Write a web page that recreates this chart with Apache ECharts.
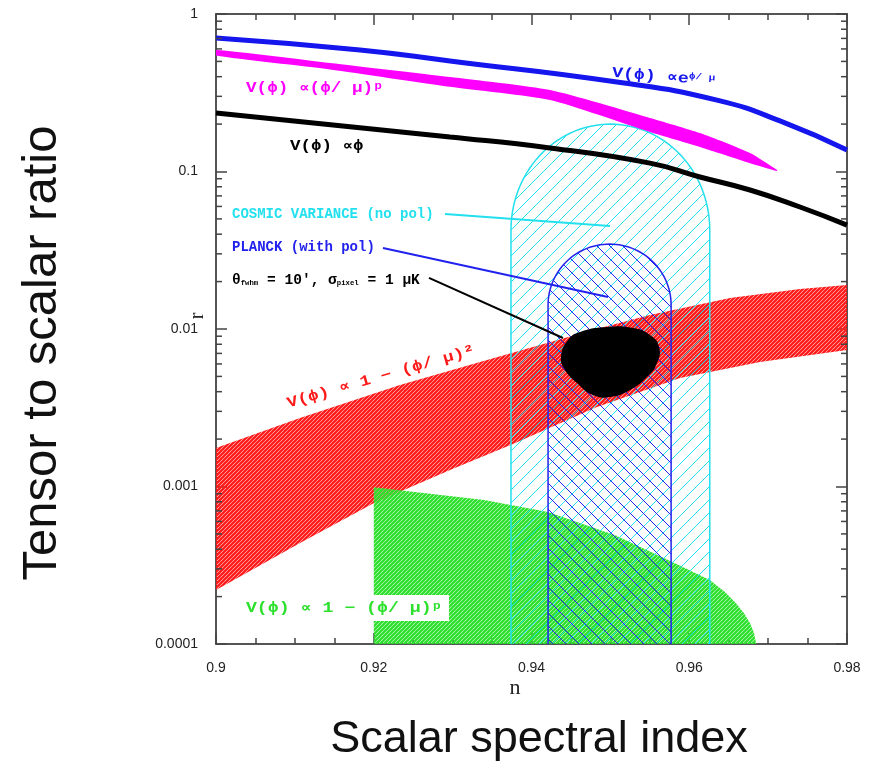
<!DOCTYPE html>
<html><head><meta charset="utf-8">
<script src="https://cdn.jsdelivr.net/npm/echarts@6/dist/echarts.min.js"></script>
<style>html,body{margin:0;padding:0;background:#fff}#c{width:869px;height:762px}</style>
</head><body><div id="c"></div>
<script>
// ---------- data ----------
const xTickLabels = ['0.9', '0.92', '0.94', '0.96', '0.98'];
const yTickLabels = ['0.0001', '0.001', '0.01', '0.1', '1'];

// V ∝ e^{phi/mu}
const expN = [0.9, 0.91826, 0.92967, 0.95084, 0.96352, 0.97189, 0.98];
const expR = [0.704, 0.591, 0.503, 0.370, 0.284, 0.206, 0.137];
// V ∝ phi
const phiN = [0.9, 0.92967, 0.94235, 0.95502, 0.96136, 0.9677, 0.97404, 0.98];
const phiR = [0.235, 0.1656, 0.141, 0.113, 0.0923, 0.0763, 0.0595, 0.0457];
// V ∝ (phi/mu)^p band
const powN = [0.9, 0.91445, 0.92967, 0.94235, 0.95502, 0.96136, 0.9677, 0.97113];
const powRUpper = [0.591, 0.489, 0.398, 0.329, 0.219, 0.1755, 0.131, 0.1023];
const powRLower = [0.545, 0.445, 0.345, 0.284, 0.178, 0.143, 0.113, 0.1008];
// V ∝ 1-(phi/mu)^2 band
const quadUpperN = [0.9, 0.91065, 0.92333, 0.93347, 0.94197, 0.94869, 0.95502, 0.96517, 0.97404, 0.98];
const quadUpperR = [0.001755, 0.00272, 0.00441, 0.00617, 0.00815, 0.01015, 0.01227, 0.01574, 0.01795, 0.01902];
const quadLowerN = [0.9, 0.91065, 0.92003, 0.92967, 0.93765, 0.9483, 0.95883, 0.96897, 0.98];
const quadLowerR = [0.000220, 0.000438, 0.000785, 0.001274, 0.001862, 0.0032, 0.00489, 0.00617, 0.00736];
// V ∝ 1-(phi/mu)^p region (upper boundary)
const hillN = [0.92, 0.934, 0.9421, 0.9506, 0.9574, 0.9626, 0.96453, 0.9659, 0.96694, 0.9677, 0.96821, 0.9685];
const hillR = [0.00099, 0.00082, 0.00069, 0.00049, 0.00034, 0.000255, 0.000214, 0.000182, 0.000157, 0.000136, 0.0001175, 0.0001];
// forecast regions: [n_low, n_high], r where sides end, r at top of cap
const cosmicN = [0.9374, 0.9626];
const cosmicShoulderR = 0.0425;
const cosmicTopR = 0.2;
const planckN = [0.9421, 0.9577];
const planckShoulderR = 0.0142;
const planckTopR = 0.0346;
// future experiment ellipse (outline points)
const blobN = [0.94374, 0.94463, 0.94615, 0.94957, 0.95287, 0.95502, 0.95617, 0.95591, 0.95464, 0.95249, 0.94995, 0.9478, 0.94577, 0.94425];
const blobR = [0.00664, 0.00851, 0.00957, 0.0103, 0.01015, 0.00916, 0.00769, 0.00608, 0.00495, 0.0041, 0.0037, 0.00381, 0.00454, 0.0055];
// leader lines [[n1,r1],[n2,r2]]
const leaderCosmic = [[0.92903, 0.0537], [0.94995, 0.0451]];
const leaderPlanck = [[0.92117, 0.0327], [0.9497, 0.01596]];
const leaderFuture = [[0.9270, 0.0211], [0.94399, 0.00877]];

// ---------- helpers ----------
function hatch(color, size, lw, dir, bg) {
  const c = document.createElement('canvas');
  c.width = size; c.height = size;
  const g = c.getContext('2d');
  if (bg) { g.fillStyle = bg; g.fillRect(0, 0, size, size); }
  g.strokeStyle = color; g.lineWidth = lw; g.beginPath();
  for (let k = -1; k <= 1; k++) {
    if (dir > 0) { g.moveTo(-2 + k * size, size + 2); g.lineTo(size + 2 + k * size, -2); }
    else { g.moveTo(-2 + k * size, -2); g.lineTo(size + 2 + k * size, size + 2); }
  }
  g.stroke();
  return c;
}
const redPat = { image: hatch('#ff1a1a', 4, 2.3, 1), repeat: 'repeat' };
const greenPat = { image: hatch('#2ee02e', 4, 2.3, 1), repeat: 'repeat' };
const cyanPat = { image: hatch('#22e0ee', 13, 1, 1), repeat: 'repeat' };
const bluePat = { image: hatch('#2222ee', 13, 1, -1), repeat: 'repeat' };

function domePts(api, nr, rS, rT) {
  const bl = api.coord([nr[0], 1e-4]), sl = api.coord([nr[0], rS]);
  const sr = api.coord([nr[1], rS]), br = api.coord([nr[1], 1e-4]);
  const top = api.coord([(nr[0] + nr[1]) / 2, rT]);
  const cx = (sl[0] + sr[0]) / 2, a = (sr[0] - sl[0]) / 2, cy = sl[1], b = cy - top[1];
  const pts = [bl, sl];
  for (let i = 1; i < 60; i++) { const t = Math.PI * i / 60; pts.push([cx - a * Math.cos(t), cy - b * Math.sin(t)]); }
  pts.push(sr, br);
  return pts;
}

const yMinor = [];
for (let k = -4; k <= -1; k++) for (let m = 2; m <= 9; m++) yMinor.push([0.94, m * Math.pow(10, k)]);

const mono = 'bold 14px "Liberation Mono", "DejaVu Sans Mono", monospace';

const chart = echarts.init(document.getElementById('c'));
const axisLine = { show: true, lineStyle: { color: '#555', width: 2 } };
const xBase = {
  type: 'value', min: 0.9, max: 0.98, interval: 0.02,
  axisLine: axisLine, splitLine: { show: false },
  axisTick: { show: true, inside: true, length: 11, lineStyle: { color: '#444', width: 1.5 } },
  minorTick: { show: true, splitNumber: 4, length: 6, lineStyle: { color: '#444', width: 1.5 } },
  minorSplitLine: { show: false }
};
const yBase = {
  type: 'log', logBase: 10, min: 0.0001, max: 1,
  axisLine: axisLine, splitLine: { show: false },
  axisTick: { show: true, inside: true, length: 11, lineStyle: { color: '#444', width: 1.5 } },
  minorTick: { show: false }
};

chart.setOption({
  animation: false,
  backgroundColor: '#fff',
  grid: { left: 216, top: 14, width: 631, height: 630, show: false },
  xAxis: [
    Object.assign({}, xBase, { position: 'bottom',
      axisLabel: { margin: 17, fontSize: 14, color: '#222', fontFamily: '"Liberation Sans", Arial, sans-serif',
        formatter: v => xTickLabels[Math.round((v - 0.9) / 0.02)] } }),
    Object.assign({}, xBase, { position: 'top', axisLabel: { show: false } })
  ],
  yAxis: [
    Object.assign({}, yBase, { position: 'left',
      axisLabel: { margin: 18, fontSize: 14, color: '#222', fontFamily: '"Liberation Sans", Arial, sans-serif',
        formatter: v => yTickLabels[Math.round(Math.log10(v)) + 4] } }),
    Object.assign({}, yBase, { position: 'right', axisLabel: { show: false } })
  ],
  series: [
    { type: 'custom', name: 'quadratic', clip: true, z: 1, data: [[0.94, 0.01]],
      renderItem: (p, api) => {
        const pts = quadUpperN.map((n, i) => api.coord([n, quadUpperR[i]]));
        for (let i = quadLowerN.length - 1; i >= 0; i--) pts.push(api.coord([quadLowerN[i], quadLowerR[i]]));
        return { type: 'polygon', shape: { points: pts }, style: { fill: redPat, stroke: null } };
      } },
    { type: 'custom', name: 'hilltop', clip: true, z: 2, data: [[0.94, 0.001]],
      renderItem: (p, api) => {
        const pts = [api.coord([hillN[0], 1e-4])];
        hillN.forEach((n, i) => pts.push(api.coord([n, hillR[i]])));
        return { type: 'polygon', shape: { points: pts }, style: { fill: greenPat, stroke: null } };
      } },
    { type: 'custom', name: 'cosmic', clip: true, z: 3, data: [[0.95, 0.01]],
      renderItem: (p, api) => {
        const pts = domePts(api, cosmicN, cosmicShoulderR, cosmicTopR);
        return { type: 'group', children: [
          { type: 'polygon', shape: { points: pts }, style: { fill: cyanPat, stroke: null } },
          { type: 'polyline', shape: { points: pts }, style: { stroke: '#22e0ee', lineWidth: 1.5, fill: null } }
        ] };
      } },
    { type: 'custom', name: 'planck', clip: true, z: 4, data: [[0.95, 0.01]],
      renderItem: (p, api) => {
        const pts = domePts(api, planckN, planckShoulderR, planckTopR);
        return { type: 'group', children: [
          { type: 'polygon', shape: { points: pts }, style: { fill: bluePat, stroke: null } },
          { type: 'polyline', shape: { points: pts }, style: { stroke: '#2222ee', lineWidth: 1.5, fill: null } }
        ] };
      } },
    { type: 'custom', name: 'power', clip: true, z: 5, data: [[0.94, 0.3]],
      renderItem: (p, api) => {
        const pts = powN.map((n, i) => api.coord([n, powRUpper[i]]));
        for (let i = powN.length - 1; i >= 0; i--) pts.push(api.coord([powN[i], powRLower[i]]));
        return { type: 'polygon', shape: { points: pts, smooth: 0.2 }, style: { fill: '#ff00ff', stroke: null } };
      } },
    { type: 'line', name: 'exp', z: 6, smooth: true, showSymbol: false, symbol: 'none',
      data: expN.map((n, i) => [n, expR[i]]), lineStyle: { color: '#1515ee', width: 5 } },
    { type: 'line', name: 'phi', z: 6, smooth: true, showSymbol: false, symbol: 'none',
      data: phiN.map((n, i) => [n, phiR[i]]), lineStyle: { color: '#000', width: 5 } },
    { type: 'custom', name: 'future', clip: true, z: 7, data: [[0.95, 0.006]],
      renderItem: (p, api) => {
        const pts = blobN.map((n, i) => api.coord([n, blobR[i]]));
        return { type: 'polygon', shape: { points: pts, smooth: 0.5 }, style: { fill: '#000', stroke: null } };
      } },
    { type: 'custom', name: 'leaders', clip: true, z: 8, data: [[0.93, 0.03]],
      renderItem: (p, api) => {
        const seg = (l, c) => ({ type: 'line', shape: (() => { const a = api.coord(l[0]), b = api.coord(l[1]); return { x1: a[0], y1: a[1], x2: b[0], y2: b[1] }; })(), style: { stroke: c, lineWidth: 2 } });
        return { type: 'group', children: [seg(leaderCosmic, '#22e0ee'), seg(leaderPlanck, '#2222ee'), seg(leaderFuture, '#000')] };
      } },
    { type: 'custom', name: 'yminor', z: 9, data: yMinor,
      renderItem: (p, api) => {
        const v = api.value(1);
        const a = api.coord([0.9, v]), b = api.coord([0.98, v]);
        return { type: 'group', children: [
          { type: 'line', shape: { x1: a[0], y1: a[1], x2: a[0] + 6, y2: a[1] }, style: { stroke: '#444', lineWidth: 1.5 } },
          { type: 'line', shape: { x1: b[0], y1: b[1], x2: b[0] - 6, y2: b[1] }, style: { stroke: '#444', lineWidth: 1.5 } }
        ] };
      } }
  ],
  graphic: [
    { type: 'text', x: 246, y: 88, z: 20, scaleX: 1.26, style: { text: 'V(ϕ) ∝(ϕ/ μ)ᵖ', font: mono, fill: '#ff00ff', verticalAlign: 'middle' } },
    { type: 'text', x: 290, y: 146, z: 20, scaleX: 1.25, style: { text: 'V(ϕ) ∝ϕ', font: mono, fill: '#000', verticalAlign: 'middle' } },
    { type: 'text', x: 612, y: 73, z: 20, rotation: -0.08, scaleX: 1.22, style: { text: '{a|V(ϕ) ∝e}{s|ϕ/ μ}', verticalAlign: 'middle',
      rich: { a: { font: 'bold 15px "Liberation Mono", monospace', fill: '#1515ee' }, s: { font: 'bold 9px "Liberation Mono", monospace', fill: '#1515ee', verticalAlign: 'top' } } } },
    { type: 'text', x: 232, y: 214, z: 20, style: { text: 'COSMIC VARIANCE (no pol)', font: mono, fill: '#22e0ee', verticalAlign: 'middle' } },
    { type: 'text', x: 232, y: 247, z: 20, style: { text: 'PLANCK (with pol)', font: mono, fill: '#2222ee', verticalAlign: 'middle' } },
    { type: 'text', x: 232, y: 280, z: 20, scaleX: 1.04, style: { text: '{a|θ}{s|fwhm}{a| = 10\', σ}{s|pixel}{a| = 1 μK}', verticalAlign: 'middle',
      rich: { a: { font: 'bold 14px "Liberation Mono", monospace', fill: '#000' }, s: { font: 'bold 7px "Liberation Mono", monospace', fill: '#000', verticalAlign: 'bottom' } } } },
    { type: 'text', x: 381, y: 377, z: 20, rotation: 0.28, scaleX: 1.2, style: { text: 'V(ϕ) ∝ 1 − (ϕ/ μ)²', font: 'bold 15px "Liberation Mono", monospace', fill: '#ff1a1a', align: 'center', verticalAlign: 'middle' } },
    { type: 'text', x: 242, y: 608, z: 20, scaleX: 1.3, style: { text: 'V(ϕ) ∝ 1 − (ϕ/ μ)ᵖ', font: mono, fill: '#2ee02e', verticalAlign: 'middle',
      backgroundColor: '#fff', padding: [6, 5, 6, 3] } },
    { type: 'text', x: 198, y: 316, z: 20, rotation: Math.PI / 2, style: { text: 'r', font: '20px "Liberation Serif", serif', fill: '#222', align: 'center', verticalAlign: 'middle' } },
    { type: 'text', x: 515, y: 688, z: 20, style: { text: 'n', font: '22px "Liberation Serif", serif', fill: '#222', align: 'center', verticalAlign: 'middle' } },
    { type: 'text', x: 42, y: 353, z: 20, rotation: Math.PI / 2, style: { text: 'Tensor to scalar ratio', font: '49px "Liberation Sans", Arial, sans-serif', fill: '#111', align: 'center', verticalAlign: 'middle' } },
    { type: 'text', x: 539, y: 740, z: 20, style: { text: 'Scalar spectral index', font: '45px "Liberation Sans", Arial, sans-serif', fill: '#111', align: 'center', verticalAlign: 'middle' } }
  ]
});
</script></body></html>
